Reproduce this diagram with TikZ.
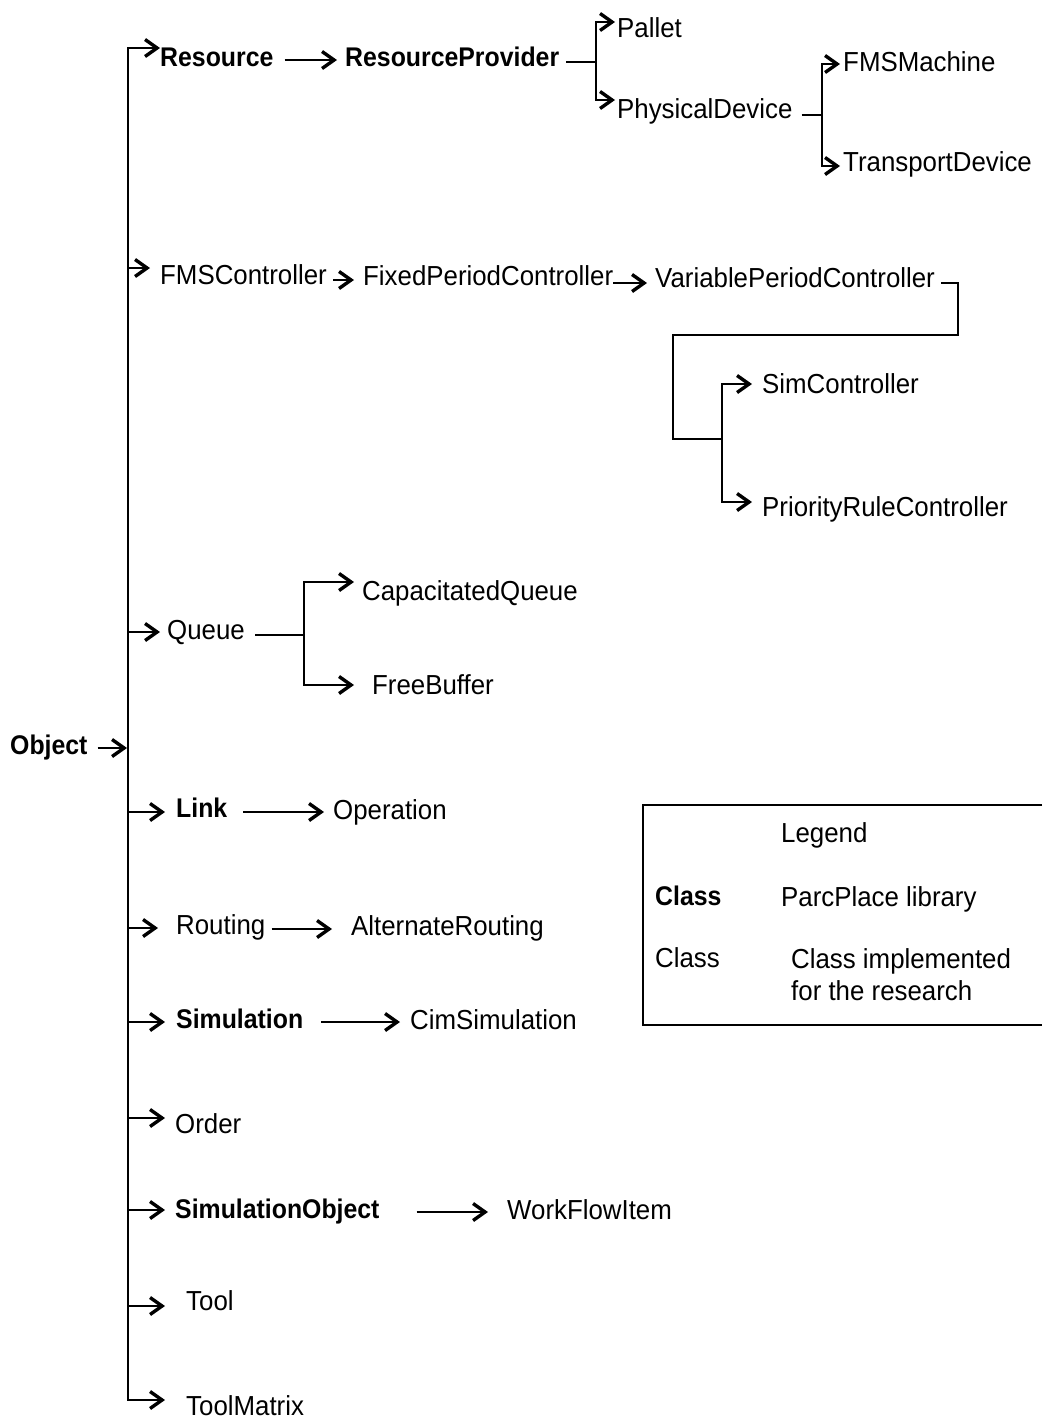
\documentclass[tikz,border=0pt]{standalone}
\usepackage{fontspec}
\setmainfont{Liberation Sans}[FakeStretch=0.94,BoldFeatures={FakeStretch=0.92}]
\usetikzlibrary{arrows.meta}
\begin{document}
\begin{tikzpicture}[x=1pt,y=-1pt,
  cls/.style={anchor=west,inner sep=0pt,font=\fontsize{27.5}{32}\selectfont,text height=19.6pt,text depth=0pt},
  lib/.style={cls,font=\fontsize{27}{32}\selectfont\bfseries,text height=19.4pt},
  link/.style={line width=2pt},
  arr/.style={link,-{Straight Barb[length=12pt,width=17pt,line width=3.4pt]}},
  frame/.style={line width=1.5pt}]
\useasboundingbox (0,0) rectangle (1042,1422);

% classes
\node[lib] (object) at (10,745) {Object};
\node[lib] (res) at (160,57) {Resource};
\node[lib] (rp) at (345,57) {ResourceProvider};
\node[cls] (pallet) at (617,28) {Pallet};
\node[cls] (pd) at (617,109) {PhysicalDevice};
\node[cls] (fmsm) at (843,62) {FMSMachine};
\node[cls] (td) at (843,162) {TransportDevice};
\node[cls] (fmsc) at (160,275) {FMSController};
\node[cls] (fpc) at (363,276) {FixedPeriodController};
\node[cls] (vpc) at (655,278) {VariablePeriodController};
\node[cls] (simc) at (762,384) {SimController};
\node[cls] (prc) at (762,507) {PriorityRuleController};
\node[cls] (queue) at (167,630) {Queue};
\node[cls] (cq) at (362,591) {CapacitatedQueue};
\node[cls] (fb) at (372,685) {FreeBuffer};
\node[lib] (link) at (176,808) {Link};
\node[cls] (op) at (333,810) {Operation};
\node[cls] (routing) at (176,925) {Routing};
\node[cls] (altr) at (351,926) {AlternateRouting};
\node[lib] (sim) at (176,1019) {Simulation};
\node[cls] (cims) at (410,1020) {CimSimulation};
\node[cls] (order) at (175,1124) {Order};
\node[lib] (simobj) at (175,1209) {SimulationObject};
\node[cls] (wfi) at (507,1210) {WorkFlowItem};
\node[cls] (tool) at (186,1301) {Tool};
\node[cls] (toolm) at (186,1406) {ToolMatrix};

% trunk below Object
\coordinate (tTop) at (128,48);
\coordinate (tBot) at (128,1400);
\coordinate (bObj) at (127,748);
\coordinate (bFMS) at (128,268);
\coordinate (bQ) at (128,632);
\coordinate (bL) at (128,812);
\coordinate (bR) at (128,928);
\coordinate (bS) at (128,1022);
\coordinate (bO) at (128,1118);
\coordinate (bSO) at (128,1210);
\coordinate (bT) at (128,1306);

\draw[arr, shorten <=10pt] ([yshift=-3pt]object.east) -- (bObj);
\draw[arr] (tBot) -- (tTop) -- (tTop -| res.west);
\draw[arr, shorten >=21pt] (tTop) -- (tBot) -- (tBot -| toolm.west);
\draw[arr, shorten >=10pt] (bFMS) -- (bFMS -| fmsc.west);
\draw[arr, shorten >=7pt] (bQ) -- (bQ -| queue.west);
\draw[arr, shorten >=11pt] (bL) -- (bL -| link.west);
\draw[arr, shorten >=18pt] (bR) -- (bR -| routing.west);
\draw[arr, shorten >=11pt] (bS) -- (bS -| sim.west);
\draw[arr, shorten >=10pt] (bO) -- (bO -| order.west);
\draw[arr, shorten >=10pt] (bSO) -- (bSO -| simobj.west);
\draw[arr, shorten >=21pt] (bT) -- (bT -| tool.west);

% Resource branch
\draw[arr, shorten <=11pt, shorten >=8pt] ([yshift=-3pt]res.east) -- ([yshift=-3pt]rp.west);
\coordinate (jR) at (596,62);
\draw[link, shorten <=7pt] ([yshift=-5pt]rp.east) -- (jR);
\draw[arr, shorten >=2pt] (jR) |- ([yshift=6pt]pallet.west);
\draw[arr, shorten >=2pt] (jR) |- ([yshift=9pt]pd.west);
\coordinate (jP) at (822,115);
\draw[link, shorten <=9pt] ([yshift=-6pt]pd.east) -- (jP);
\draw[arr, shorten >=3pt] (jP) |- ([yshift=-2pt]fmsm.west);
\draw[arr, shorten >=3pt] (jP) |- ([yshift=-4pt]td.west);

% controller branch
\draw[arr, shorten <=6pt, shorten >=9pt] ([yshift=-5pt]fmsc.east) -- ([yshift=-4pt]fpc.west);
\draw[arr, shorten >=8pt] ([yshift=-7pt]fpc.east) -- ([yshift=-5pt]vpc.west);
\coordinate (cV1) at (958,335);
\coordinate (cV2) at (673,335);
\coordinate (jS) at (722,439);
\draw[link, shorten <=6pt] ([yshift=-5pt]vpc.east) -| (cV1) -- (cV2) |- (jS);
\draw[arr, shorten >=10pt] (jS) |- (simc.west);
\draw[arr, shorten >=10pt] (jS) |- ([yshift=5pt]prc.west);

% Queue branch
\coordinate (jQ) at (304,635);
\draw[link, shorten <=10pt] ([yshift=-5pt]queue.east) -- (jQ);
\draw[arr, shorten >=8pt] (jQ) |- ([yshift=9pt]cq.west);
\draw[arr, shorten >=18pt] (jQ) |- (fb.west);

% single subclasses
\draw[arr, shorten <=16pt, shorten >=9pt] ([yshift=-4pt]link.east) -- ([yshift=-2pt]op.west);
\draw[arr, shorten <=6pt, shorten >=19pt] ([yshift=-4pt]routing.east) -- ([yshift=-3pt]altr.west);
\draw[arr, shorten <=18pt, shorten >=10pt] ([yshift=-3pt]sim.east) -- ([yshift=-2pt]cims.west);
\draw[arr, shorten <=37pt, shorten >=19pt] ([yshift=-3pt]simobj.east) -- ([yshift=-2pt]wfi.west);

% legend
\draw[frame] (1042,805) -- (643,805) -- (643,1025) -- (1042,1025);
\node[cls] (lgTitle) at (781,833) {Legend};
\node[lib] (lgBold) at (655,896) {Class};
\node[cls] (lgLib) at (781,897) {ParcPlace library};
\node[cls] (lgReg) at (655,958) {Class};
\node[cls] (lgImpl) at (791,959) {Class implemented};
\node[cls] (lgImpl2) at (791,991) {for the research};
\end{tikzpicture}
\end{document}
